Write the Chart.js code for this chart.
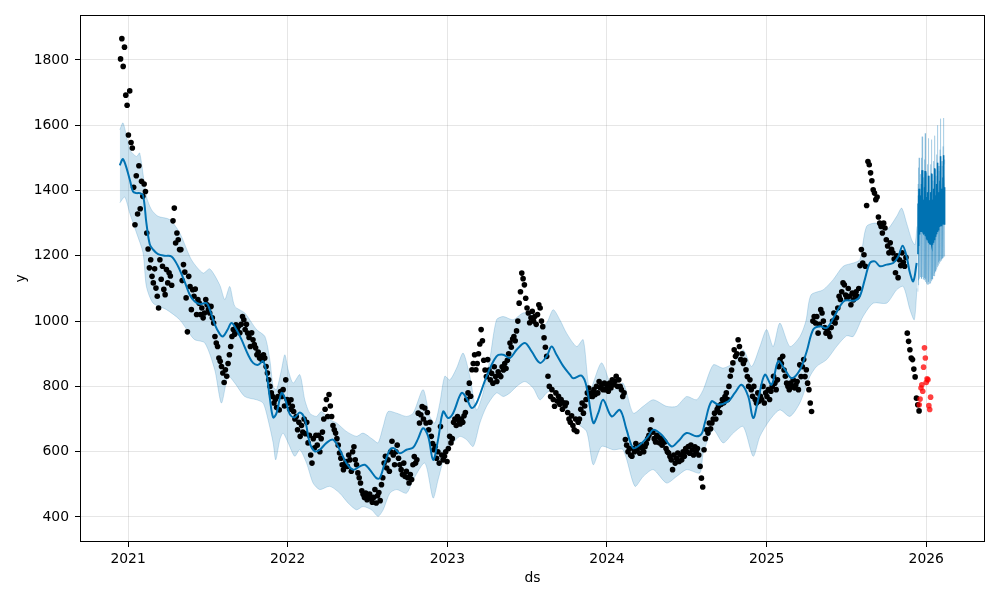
<!DOCTYPE html>
<html><head><meta charset="utf-8">
<script src="https://cdn.jsdelivr.net/npm/chart.js@4.4.0/dist/chart.umd.min.js"></script>
<style>html,body{margin:0;padding:0;background:#fff}canvas{display:block}</style>
</head><body>
<canvas id="c" width="1000" height="600"></canvas>
<script>
// ---- tick labels ----
const xTicks = [2021, 2022, 2023, 2024, 2025, 2026];
const yTicks = [400, 600, 800, 1000, 1200, 1400, 1600, 1800];

// ---- observed history (black), one value every 3 days from obsStart (decimal year) ----
const obsStart = 2020.953;
const obsStepDays = 3;
const obsValues = [
  1803,1865,1780,1839,1692,1661,1570,1705,1547,1530,
  1410,1295,1445,1328,1476,1344,1428,1382,1420,1397,
  1270,1221,1163,1188,1137,1117,1160,1101,1076,1040,
  1188,1128,1168,1097,1081,1158,1117,1148,1138,1110,
  1307,1346,1239,1270,1249,1219,1219,1124,1173,1150,
  1071,967,1137,1106,1035,1096,1076,1098,1020,1066,
  1055,1020,1040,1010,1025,1066,1050,1035,1025,1045,
  1010,994,953,933,922,887,877,861,841,812,
  851,831,870,897,922,953,974,960,989,974,
  984,964,990,1014,1004,974,990,963,950,922,
  964,943,928,918,897,905,887,892,880,897,
  887,861,841,820,800,780,769,749,760,735,
  769,728,784,769,790,740,820,760,749,730,
  759,739,723,700,708,667,690,647,680,660,
  700,655,690,627,650,590,565,640,612,650,
  620,650,600,640,660,700,730,760,708,775,
  740,708,680,667,657,640,620,596,580,560,
  545,560,570,555,590,575,540,600,615,575,
  560,535,520,504,480,470,460,473,453,465,
  470,455,445,460,484,443,465,475,450,499,
  520,565,586,550,575,540,600,632,590,560,
  600,620,580,560,545,530,565,524,540,520,
  504,530,515,560,585,565,575,718,688,713,
  738,700,734,688,720,667,690,647,625,606,
  616,580,600,565,677,590,575,586,600,570,
  610,647,627,640,690,700,680,708,695,685,
  700,690,710,720,760,780,810,770,851,870,
  897,851,870,900,930,974,940,880,850,830,
  882,850,820,840,810,860,830,815,845,835,
  830,860,850,870,855,880,900,933,920,945,
  953,940,970,1000,1055,1090,1147,1130,1111,1070,
  1040,1025,995,1010,1030,1000,1015,990,1020,1050,
  1040,1000,983,949,920,892,831,800,769,790,
  760,739,780,755,770,745,760,730,750,740,
  749,720,700,690,710,680,667,700,662,690,
  700,730,749,718,740,760,780,795,770,780,
  769,790,775,800,780,815,795,805,790,810,
  790,800,785,810,795,820,805,815,831,800,
  820,800,790,769,780,637,620,600,610,590,
  586,610,600,625,605,615,595,620,610,600,
  615,625,640,650,667,698,660,640,630,650,
  645,627,640,620,635,630,610,600,596,585,
  575,545,590,565,580,596,570,590,575,600,
  586,610,600,616,595,620,605,590,615,600,
  610,590,555,519,492,606,640,667,657,688,
  670,688,700,718,700,730,739,720,745,760,
  750,769,780,760,800,831,850,872,912,892,
  900,943,922,882,900,870,880,851,830,800,
  820,790,770,800,760,749,780,755,770,760,
  800,749,780,769,790,760,785,800,831,810,
  790,820,860,882,870,892,850,831,810,800,
  790,810,800,820,795,805,815,790,866,830,
  860,882,830,851,810,790,749,723,1000,1014,
  994,1014,963,990,1035,1025,1000,980,963,975,
  963,953,980,1000,1025,994,1010,1040,1076,1066,
  1090,1117,1111,1080,1070,1100,1076,1050,1086,1065,
  1080,1090,1075,1100,1170,1219,1178,1203,1168,1354,
  1489,1479,1454,1430,1402,1392,1372,1380,1319,1300,
  1290,1270,1300,1285,1249,1230,1209,1240,1220,1209,
  1190,1148,1200,1133,1188,1170,1209,1180,1168,1195,
  963,938,912,887,882,853,829,764,744,725
];

// ---- held-out observations (red), one value every 2 days ----
const testStart = 2025.956;
const testStepDays = 2;
const testValues = [744,761,795,805,785,859,918,887,812,823,820,741,729,767];

// ---- fitted trend (yhat) over history ----
const trendT = [2020.948,2020.969,2021.011,2021.031,2021.053,2021.073,2021.094,2021.115,2021.136,2021.157,2021.188,2021.230,2021.272,2021.313,2021.355,2021.387,2021.418,2021.449,2021.491,2021.512,2021.543,2021.575,2021.595,2021.625,2021.648,2021.679,2021.711,2021.752,2021.783,2021.815,2021.846,2021.867,2021.888,2021.909,2021.930,2021.961,2021.982,2022.013,2022.044,2022.076,2022.107,2022.138,2022.170,2022.201,2022.243,2022.284,2022.326,2022.368,2022.410,2022.452,2022.483,2022.514,2022.556,2022.577,2022.608,2022.640,2022.665,2022.702,2022.744,2022.786,2022.817,2022.848,2022.880,2022.911,2022.942,2022.974,2023.005,2023.036,2023.089,2023.120,2023.152,2023.183,2023.246,2023.308,2023.350,2023.392,2023.434,2023.486,2023.528,2023.580,2023.622,2023.653,2023.684,2023.726,2023.768,2023.788,2023.841,2023.872,2023.914,2023.945,2023.976,2024.029,2024.081,2024.123,2024.164,2024.206,2024.258,2024.290,2024.342,2024.405,2024.446,2024.499,2024.561,2024.593,2024.613,2024.655,2024.697,2024.759,2024.801,2024.843,2024.885,2024.916,2024.947,2024.989,2025.031,2025.073,2025.115,2025.157,2025.209,2025.251,2025.292,2025.334,2025.376,2025.417,2025.459,2025.490,2025.553,2025.584,2025.615,2025.647,2025.678,2025.710,2025.752,2025.793,2025.825,2025.852,2025.877,2025.898,2025.919,2025.940];
const trendY = [1477,1496,1433,1397,1392,1392,1385,1300,1235,1219,1205,1200,1198,1168,1120,1080,1060,1052,1055,1035,990,960,953,975,994,974,943,897,872,866,877,841,765,705,718,780,765,715,705,720,700,627,601,606,627,637,606,565,545,555,560,545,519,519,565,606,611,595,606,613,640,672,647,575,637,723,703,718,780,764,734,749,831,892,897,887,912,933,907,872,892,922,897,862,836,825,833,800,688,718,759,708,728,667,611,621,647,667,652,616,632,657,647,655,688,754,744,754,780,805,769,703,759,836,805,877,851,825,851,907,974,984,979,1008,1045,1063,1063,1076,1127,1178,1183,1168,1173,1178,1198,1231,1198,1147,1122,1178];

// ---- uncertainty interval over history ----
const upperT = [2020.948,2020.969,2021.011,2021.053,2021.073,2021.115,2021.147,2021.188,2021.261,2021.324,2021.397,2021.470,2021.512,2021.575,2021.606,2021.637,2021.669,2021.731,2021.805,2021.857,2021.888,2021.909,2021.930,2021.961,2021.982,2022.003,2022.034,2022.076,2022.107,2022.138,2022.180,2022.212,2022.264,2022.306,2022.368,2022.431,2022.472,2022.535,2022.566,2022.598,2022.629,2022.682,2022.744,2022.786,2022.848,2022.890,2022.922,2022.953,2022.984,2023.016,2023.058,2023.099,2023.141,2023.183,2023.224,2023.266,2023.308,2023.350,2023.412,2023.475,2023.528,2023.580,2023.622,2023.663,2023.705,2023.747,2023.810,2023.851,2023.893,2023.966,2024.039,2024.101,2024.164,2024.227,2024.290,2024.373,2024.436,2024.499,2024.561,2024.603,2024.666,2024.728,2024.791,2024.853,2024.906,2024.958,2025.000,2025.041,2025.083,2025.146,2025.209,2025.246,2025.278,2025.355,2025.417,2025.480,2025.543,2025.584,2025.626,2025.689,2025.752,2025.815,2025.846,2025.877,2025.909,2025.929,2025.942];
const upperY = [1586,1607,1525,1504,1515,1382,1341,1321,1311,1270,1188,1147,1160,1110,1066,1106,1045,1025,974,953,882,800,790,851,897,851,810,836,759,718,708,723,698,688,662,647,657,637,627,677,723,718,708,718,790,708,688,749,831,820,856,902,831,728,780,882,1004,1014,1004,1025,1020,984,994,1035,1004,963,922,943,790,872,790,810,718,739,759,739,739,769,759,790,866,856,872,912,861,922,974,922,994,922,953,1000,1080,1096,1127,1168,1178,1188,1290,1300,1280,1321,1346,1300,1249,1234,1290];
const lowerT = [2020.948,2020.979,2021.011,2021.053,2021.094,2021.115,2021.157,2021.241,2021.324,2021.387,2021.418,2021.481,2021.543,2021.585,2021.627,2021.669,2021.731,2021.805,2021.846,2021.877,2021.909,2021.925,2021.951,2021.971,2022.003,2022.044,2022.076,2022.118,2022.159,2022.201,2022.264,2022.326,2022.378,2022.431,2022.472,2022.525,2022.566,2022.598,2022.640,2022.682,2022.744,2022.786,2022.859,2022.911,2022.942,2022.995,2023.036,2023.078,2023.120,2023.162,2023.204,2023.246,2023.308,2023.350,2023.392,2023.434,2023.486,2023.538,2023.580,2023.622,2023.663,2023.747,2023.810,2023.872,2023.914,2023.966,2024.039,2024.101,2024.175,2024.227,2024.290,2024.373,2024.436,2024.499,2024.582,2024.603,2024.666,2024.728,2024.791,2024.853,2024.916,2024.958,2025.021,2025.083,2025.146,2025.209,2025.271,2025.313,2025.376,2025.438,2025.501,2025.543,2025.604,2025.668,2025.752,2025.815,2025.856,2025.898,2025.925,2025.942];
const lowerY = [1362,1380,1330,1270,1209,1106,1055,1035,1004,960,943,933,851,749,831,810,769,759,749,698,627,575,637,657,627,586,606,565,504,484,494,473,443,422,432,422,402,422,473,484,473,514,565,458,514,606,627,647,637,616,688,739,780,769,780,800,815,795,759,780,790,728,688,662,560,616,606,606,494,524,545,504,524,545,535,596,667,627,657,677,586,647,698,728,708,750,830,861,882,922,955,953,1014,1055,1055,1096,1106,1035,1004,1100];

// ---- future forecast, daily from fcStart: daily trough / peak of yhat and interval bounds ----
const fcStart = 2025.948;
const fcLow = [1205,1230,1252,1265,1272,1275,1276,1275,1278,1282,1276,1272,1270,1268,1268,1270,1272,1266,1260,1255,1252,1250,1252,1255,1245,1240,1238,1236,1236,1238,1242,1236,1234,1234,1236,1240,1245,1250,1250,1254,1258,1262,1266,1270,1275,1276,1280,1283,1285,1288,1290,1294,1292,1293,1294,1295,1296,1297,1300,1298,1297,1298];
const fcHigh = [1360,1385,1405,1380,1375,1370,1385,1395,1420,1462,1418,1385,1372,1370,1380,1410,1460,1415,1380,1365,1360,1368,1395,1445,1400,1370,1358,1355,1362,1395,1452,1405,1372,1362,1360,1370,1405,1468,1420,1385,1375,1372,1385,1420,1485,1432,1395,1388,1385,1395,1430,1505,1445,1405,1398,1395,1405,1440,1508,1450,1410,1400];
const fcUpper = [1420,1470,1500,1455,1440,1430,1450,1470,1500,1565,1505,1460,1440,1435,1450,1495,1575,1500,1455,1430,1425,1435,1480,1560,1490,1445,1425,1420,1430,1480,1556,1490,1450,1430,1430,1445,1490,1568,1505,1465,1450,1445,1460,1510,1600,1520,1475,1465,1460,1475,1525,1620,1540,1490,1480,1475,1490,1535,1622,1545,1495,1480];
const fcLower = [1090,1110,1125,1135,1130,1140,1135,1145,1138,1130,1142,1135,1128,1138,1130,1125,1132,1120,1128,1115,1122,1112,1118,1125,1112,1120,1114,1122,1116,1125,1130,1122,1128,1135,1128,1138,1142,1138,1148,1146,1155,1152,1162,1158,1168,1165,1172,1170,1180,1176,1185,1182,1190,1186,1194,1190,1196,1192,1198,1195,1200,1198];

// ---- build library tables ----
const DAY = 1 / 365.25;
const obsData = obsValues.map((v, i) => ({x: obsStart + i * obsStepDays * DAY, y: v}));
const testData = testValues.map((v, i) => ({x: testStart + i * testStepDays * DAY, y: v}));
const trendData = trendT.map((t, i) => ({x: t, y: trendY[i]}));
const upperData = upperT.map((t, i) => ({x: t, y: upperY[i]}));
const lowerData = lowerT.map((t, i) => ({x: t, y: lowerY[i]}));
const fcLine = [], fcTop = [], fcBot = [];
fcLow.forEach((lo, d) => {
  const t0 = fcStart + d * DAY, t1 = fcStart + (d + 0.5) * DAY;
  fcLine.push({x: t0, y: lo}, {x: t1, y: fcHigh[d]});
  fcTop.push({x: t0, y: lo}, {x: t1, y: fcUpper[d]});
  fcBot.push({x: t0, y: fcLower[d]}, {x: t1, y: fcHigh[d]});
});

const BAND = 'rgba(0,114,178,0.2)';
const BLUE = '#0072B2';
const FONT = {family: "'DejaVu Sans', 'Noto Sans', sans-serif", size: 13.9};
Chart.defaults.font.family = "'DejaVu Sans', 'Noto Sans', sans-serif";
Chart.defaults.font.size = 13.9;
Chart.defaults.color = '#000';

const frame = {
  id: 'frame',
  afterDraw(chart) {
    const {ctx, chartArea: a} = chart;
    ctx.save();
    ctx.strokeStyle = '#000';
    ctx.lineWidth = 1;
    ctx.strokeRect(Math.round(a.left) + 0.5, Math.round(a.top) + 0.5,
                   Math.round(a.right - a.left) - 1, Math.round(a.bottom - a.top) - 1);
    ctx.restore();
  }
};

new Chart(document.getElementById('c'), {
  type: 'scatter',
  data: {
    datasets: [
      {type: 'line', data: upperData, borderColor: BAND, borderWidth: 1, pointRadius: 0, fill: false, tension: 0.25, order: 5},
      {type: 'line', data: lowerData, borderColor: BAND, borderWidth: 1, pointRadius: 0, fill: '-1', backgroundColor: BAND, tension: 0.25, order: 5},
      {type: 'line', data: fcTop, borderColor: BAND, borderWidth: 1, pointRadius: 0, fill: false, tension: 0, order: 5},
      {type: 'line', data: fcBot, borderColor: BAND, borderWidth: 1, pointRadius: 0, fill: '-1', backgroundColor: BAND, tension: 0, order: 5},
      {type: 'scatter', data: obsData, backgroundColor: '#000', borderWidth: 0, pointRadius: 2.8, order: 4},
      {type: 'line', data: trendData, borderColor: BLUE, borderWidth: 2, pointRadius: 0, fill: false, tension: 0.35, order: 3},
      {type: 'line', data: fcLine, borderColor: BLUE, borderWidth: 1.5, pointRadius: 0, fill: false, tension: 0, order: 3},
      {type: 'scatter', data: testData, backgroundColor: 'rgba(255,0,0,0.75)', borderWidth: 0, pointRadius: 2.8, order: 1}
    ]
  },
  options: {
    responsive: false,
    animation: false,
    devicePixelRatio: 1,
    events: [],
    layout: {padding: {top: 15, right: 15, left: 0, bottom: 0}},
    plugins: {legend: {display: false}, tooltip: {enabled: false}},
    scales: {
      x: {
        type: 'linear', min: 2020.699, max: 2026.368,
        afterBuildTicks: s => { s.ticks = xTicks.map(v => ({value: v})); },
        afterFit: s => { s.height = 58; },
        ticks: {callback: v => String(v), font: FONT, color: '#000', padding: 4, maxRotation: 0, autoSkip: false},
        grid: {color: 'rgba(128,128,128,0.2)', lineWidth: 1, tickColor: '#000', tickLength: 5},
        border: {display: false},
        title: {display: true, text: 'ds', font: FONT, color: '#000', padding: {top: 0, bottom: 13}}
      },
      y: {
        type: 'linear', min: 323.4, max: 1937.5,
        afterBuildTicks: s => { s.ticks = yTicks.map(v => ({value: v})); },
        afterFit: s => { s.width = 80; },
        ticks: {callback: v => String(v), font: FONT, color: '#000', padding: 6, autoSkip: false},
        grid: {color: 'rgba(128,128,128,0.2)', lineWidth: 1, tickColor: '#000', tickLength: 5},
        border: {display: false},
        title: {display: true, text: 'y', font: FONT, color: '#000', padding: {top: 13, bottom: 0}}
      }
    }
  },
  plugins: [frame]
});
</script>
</body></html>
